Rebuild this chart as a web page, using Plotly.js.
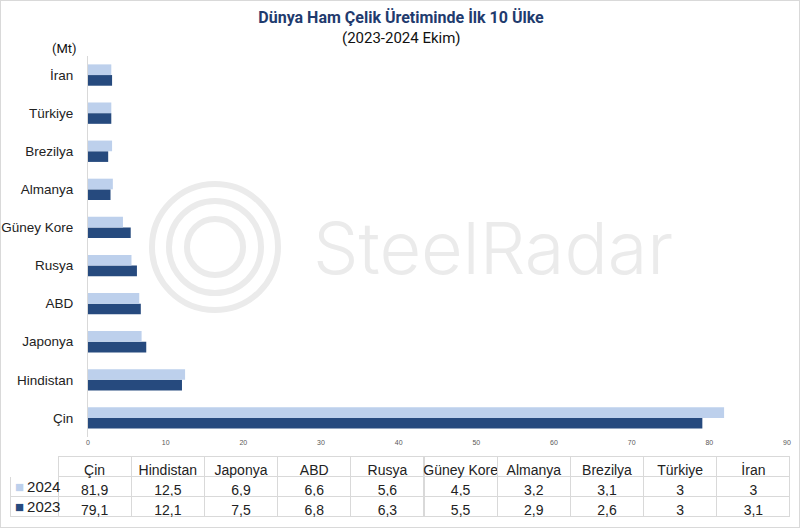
<!DOCTYPE html>
<html><head><meta charset="utf-8">
<script src="https://cdn.plot.ly/plotly-3.0.1.min.js"></script>
<style>body{margin:0;padding:0;background:#fff}#c{width:798px;height:526px;border:1px solid #d9d9d9}</style>
</head><body><div id="c"></div>
<script>
var countries = ['Çin','Hindistan','Japonya','ABD','Rusya','Güney Kore','Almanya','Brezilya','Türkiye','İran'];
var v2024 = [81.9,12.5,6.9,6.6,5.6,4.5,3.2,3.1,3,3];
var v2023 = [79.1,12.1,7.5,6.8,6.3,5.5,2.9,2.6,3,3.1];
var seriesNames = ['2024','2023'];
var colors = {'2024':'#bdd0ec','2023':'#264a7e'};

// reference pixel coords (page) -> layout coords (div inner starts at 1,1)
var W=798,H=526,ml=7,mr=7,mt=55,mb=7;
var pw=W-ml-mr, ph=H-mt-mb;
function fx(px){return (px-1-ml)/pw;}
function fy(py){return (H-mb-(py-1))/ph;}
function fmt(v){return String(v).replace('.',',');}
function nb(s){return s.replace(/ /g,'\u00a0');}

var traces = [
 {type:'bar',orientation:'h',name:'2023',y:countries,x:v2023,marker:{color:colors['2023']},hoverinfo:'x+y'},
 {type:'bar',orientation:'h',name:'2024',y:countries,x:v2024,marker:{color:colors['2024']},hoverinfo:'x+y'}
];

var headerVals=[''].concat(countries.map(nb));
var cellVals=[['','']];
for(var i=0;i<countries.length;i++){cellVals.push([fmt(v2024[i]),fmt(v2023[i])]);}
var cw=[48];for(var i=0;i<10;i++)cw.push(73.2);
var hl=['#ffffff'];for(var i=0;i<10;i++)hl.push('#d9d9d9');
traces.push({type:'table',domain:{x:[fx(10),fx(790)],y:[fy(517),fy(456)]},
 columnwidth:cw,
 header:{values:headerVals,height:20,align:'center',fill:{color:'#fff'},line:{color:hl,width:1},
   font:{family:'Liberation Sans, Arial, sans-serif',size:14,color:'#222'}},
 cells:{values:cellVals,height:20,align:'center',fill:{color:'#fff'},line:{color:'#d9d9d9',width:1},
   font:{family:'Liberation Sans, Arial, sans-serif',size:14,color:'#222'}}
});

var shapes=[];
var cx=215,cy=247;
[63,46,28].forEach(function(r){
 shapes.push({type:'circle',xref:'paper',yref:'paper',layer:'below',
  x0:fx(cx-r),x1:fx(cx+r),y0:fy(cy+r),y1:fy(cy-r),line:{color:'#ebebeb',width:6}});
});

var annotations=[
  {text:'(2023-2024 Ekim)',xref:'paper',yref:'paper',x:fx(401),y:fy(38),xanchor:'center',yanchor:'middle',showarrow:false,
   font:{family:'Liberation Sans Narrow, Roboto, sans-serif',size:15,color:'#111'}},
  {text:'(Mt)',xref:'paper',yref:'paper',x:fx(64),y:fy(48),xanchor:'center',yanchor:'middle',showarrow:false,
   font:{family:'Liberation Sans Narrow, Roboto, sans-serif',size:13,color:'#111'}},
  {text:'SteelRadar',xref:'paper',yref:'paper',x:fx(311),y:fy(247),xanchor:'left',yanchor:'middle',showarrow:false,
   font:{family:'Inter, sans-serif',size:72,color:'#ebebeb',weight:300}}
];
seriesNames.forEach(function(s,k){
 annotations.push({text:"<span style='color:"+colors[s]+"'>■</span>\u2009"+s,xref:'paper',yref:'paper',
   x:fx(13),y:fy(486+20*k),xanchor:'left',yanchor:'middle',showarrow:false,
   font:{family:'Liberation Sans, Arial, sans-serif',size:15,color:'#222'}});
});

var layout={
 width:W,height:H,
 margin:{l:ml,r:mr,t:mt,b:mb},
 paper_bgcolor:'#fff',plot_bgcolor:'rgba(0,0,0,0)',
 showlegend:false,
 barmode:'group',bargap:0.44,bargroupgap:0,
 title:{text:'<b>Dünya Ham Çelik Üretiminde İlk 10 Ülke</b>',x:fx(401),xanchor:'center',y:1-16/H,yanchor:'middle',
   font:{family:'Liberation Sans Narrow, Roboto, sans-serif',size:16,color:'#1f3b6e'}},
 xaxis:{domain:[fx(88),fx(787)],range:[0,90],dtick:10,showgrid:false,zeroline:false,showline:false,ticks:'',
   tickfont:{size:7,color:'#595959',family:'Liberation Sans, Arial'}},
 yaxis:{domain:[fy(437),fy(56)],showgrid:false,zeroline:false,showline:true,linecolor:'#d9d9d9',linewidth:1,ticks:'',
   ticklabelstandoff:11,tickfont:{size:13.5,color:'#222',family:'Liberation Sans, Arial, sans-serif'}},
 shapes:shapes,
 annotations:annotations
};
Plotly.newPlot('c',traces,layout,{displayModeBar:false,staticPlot:true});
</script></body></html>
